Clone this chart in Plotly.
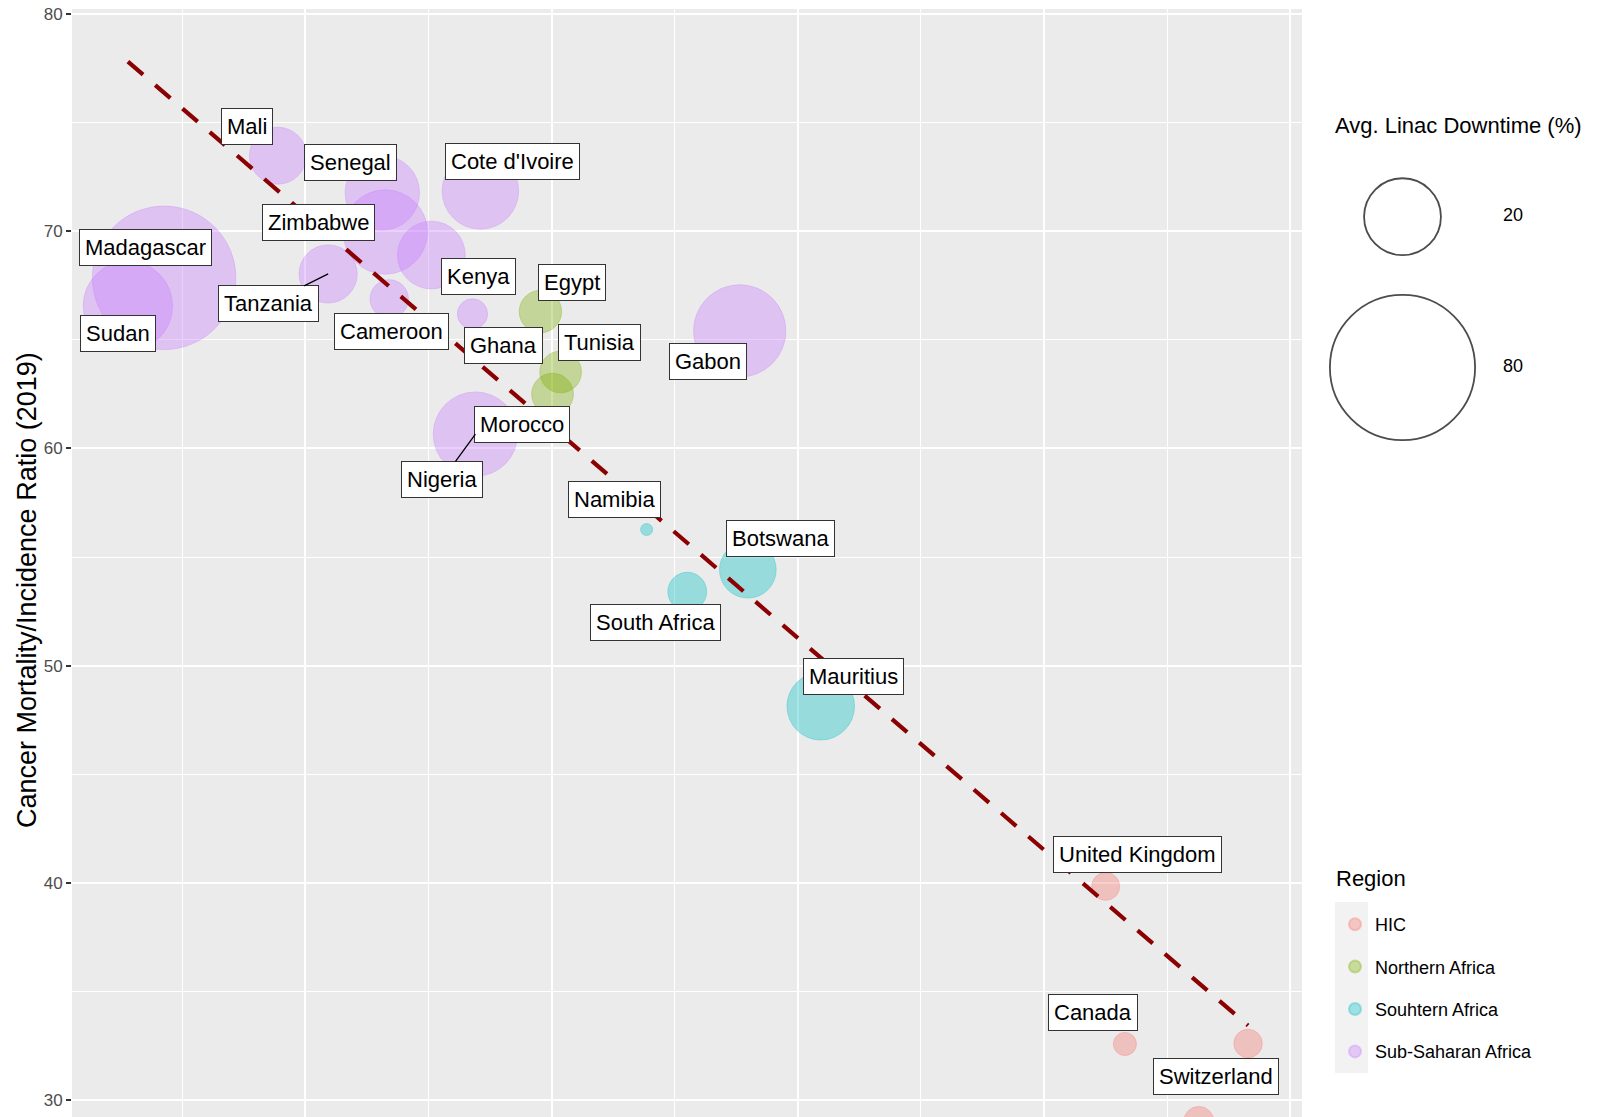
import numpy as np
import plotly.graph_objects as go

# ---------------- data ----------------
countries = ["Madagascar", "Sudan", "Mali", "Senegal", "Zimbabwe", "Tanzania",
             "Cameroon", "Kenya", "Cote d'Ivoire", "Ghana", "Nigeria", "Gabon",
             "Egypt", "Tunisia", "Morocco",
             "Namibia", "South Africa", "Botswana", "Mauritius",
             "United Kingdom", "Canada", "Switzerland", "(label cropped)"]
regions = (["Sub-Saharan Africa"] * 12 + ["Northern Africa"] * 3 +
           ["Souhtern Africa"] * 4 + ["HIC"] * 4)
# x variable: its title and tick labels are cropped off in the reference
x_values = [0.427, 0.280, 0.889, 1.313, 1.325, 1.093, 1.341, 1.512, 1.711, 1.679, 1.691, 2.764,
            1.955, 2.037, 2.004,
            2.386, 2.551, 2.797, 3.093,
            4.250, 4.328, 4.828, 4.628]
mi_ratio = [67.85, 66.56, 73.47, 71.76, 69.96, 68.03, 66.88, 68.90, 71.85, 66.19, 60.66, 65.41,
            66.30, 63.52, 62.50,
            56.27, 53.41, 54.42, 48.14,
            39.85, 32.60, 32.62, 29.03]
downtime = [78.0, 28.0, 10.0, 18.6, 24.6, 10.5, 3.8, 15.0, 19.8, 2.0, 24.6, 30.0,
            4.9, 4.7, 4.7,
            0.05, 3.9, 9.9, 14.9,
            1.6, 0.9, 1.7, 2.0]
region_order = ["HIC", "Northern Africa", "Souhtern Africa", "Sub-Saharan Africa"]
size_breaks = [20, 80]
trend_y = [77.80, 33.45]          # fitted line at min / max x
y_tick_vals = [30, 40, 50, 60, 70, 80]

# ---------------- layout helpers ----------------
W, H = 1597, 1117
ML, MT = 72, 9
PW, PH = W - ML, H - MT


def px_x(p):
    return (p - ML) / PW


def px_y(p):
    return (H - p) / PH


def size_px(v):
    return list(8.6 + 15.27 * np.sqrt(np.asarray(v, dtype=float)))


region_colors = {"HIC": "#F8766D", "Northern Africa": "#7CAE00",
                 "Souhtern Africa": "#00BFC4", "Sub-Saharan Africa": "#C77CFF"}


def rgba(h, a):
    h = h.lstrip("#")
    r, g, b = int(h[0:2], 16), int(h[2:4], 16), int(h[4:6], 16)
    return f"rgba({r},{g},{b},{a})"


FONT = "Liberation Sans, Arial, Helvetica, sans-serif"

# label placement (ggrepel-like positions, in data units)
label_pos = {
    "Mali": (0.763, 74.83), "Senegal": (1.184, 73.15), "Zimbabwe": (1.053, 70.38),
    "Madagascar": (0.353, 69.23), "Tanzania": (0.849, 66.65), "Sudan": (0.238, 65.28),
    "Cote d'Ivoire": (1.840, 73.22), "Kenya": (1.704, 67.93), "Egypt": (2.083, 67.65),
    "Ghana": (1.805, 64.73), "Tunisia": (2.196, 64.88), "Gabon": (2.635, 64.02),
    "Morocco": (1.881, 61.11), "Nigeria": (1.556, 58.57), "Cameroon": (1.352, 65.36),
    "Namibia": (2.255, 57.65), "Botswana": (2.928, 55.86), "South Africa": (2.423, 51.97),
    "Mauritius": (3.224, 49.51), "United Kingdom": (4.381, 41.30), "Canada": (4.199, 34.03),
    "Switzerland": (4.699, 31.11),
}
segment_labels = {"Tanzania", "Nigeria"}

fig = go.Figure()

for reg in region_order:
    idx = [i for i, r in enumerate(regions) if r == reg]
    c = region_colors[reg]
    fig.add_trace(go.Scatter(
        x=[x_values[i] for i in idx], y=[mi_ratio[i] for i in idx],
        mode="markers", name=reg, legendgroup=reg,
        text=[countries[i] for i in idx],
        marker=dict(size=size_px([downtime[i] for i in idx]), sizemode="diameter",
                    color=rgba(c, 0.5), line=dict(color=rgba(c, 0.5), width=1)),
    ))

# dashed linear trend
fig.add_trace(go.Scatter(
    x=[min(x_values), max(x_values)], y=trend_y, mode="lines",
    line=dict(color="#8B0000", width=4.2, dash="20px,16px"),
    showlegend=False, hoverinfo="skip",
))

# size legend (drawn on its own invisible axes)
fig.add_trace(go.Scatter(
    x=[0] * len(size_breaks), y=list(range(len(size_breaks))), xaxis="x2", yaxis="y2",
    mode="markers", showlegend=False, hoverinfo="skip", cliponaxis=False,
    marker=dict(symbol="circle-open", size=size_px(size_breaks), color="black",
                line=dict(color="black", width=1.8)),
))
fig.add_trace(go.Scatter(
    x=[1] * len(size_breaks), y=list(range(len(size_breaks))), xaxis="x2", yaxis="y2",
    mode="text", text=[str(b) for b in size_breaks], showlegend=False, hoverinfo="skip",
    cliponaxis=False, textfont=dict(size=18, color="black", family=FONT),
))

annotations = []
for name, (lx, ly) in label_pos.items():
    i = countries.index(name)
    common = dict(text=name, font=dict(size=22, color="black", family=FONT),
                  bgcolor="white", bordercolor="#333333", borderwidth=1, borderpad=5)
    if name in segment_labels:
        annotations.append(dict(x=x_values[i], y=mi_ratio[i], xref="x", yref="y",
                                ax=lx, ay=ly, axref="x", ayref="y", showarrow=True,
                                arrowhead=0, arrowwidth=1.3, arrowcolor="black",
                                standoff=0, **common))
    else:
        annotations.append(dict(x=lx, y=ly, xref="x", yref="y", showarrow=False,
                                xanchor="center", yanchor="middle", **common))

annotations.append(dict(text="Cancer Mortality/Incidence Ratio (2019)", xref="paper", yref="paper",
                        x=px_x(27), y=px_y(590), textangle=-90, showarrow=False,
                        xanchor="center", yanchor="middle",
                        font=dict(size=27, color="black", family=FONT)))
annotations.append(dict(text="Avg. Linac Downtime (%)", xref="paper", yref="paper",
                        x=px_x(1333), y=px_y(126), showarrow=False,
                        xanchor="left", yanchor="middle",
                        font=dict(size=22, color="black", family=FONT)))
annotations.append(dict(text="Region", xref="paper", yref="paper",
                        x=px_x(1334), y=px_y(878), showarrow=False,
                        xanchor="left", yanchor="middle",
                        font=dict(size=22, color="black", family=FONT)))

shapes = [
    dict(type="rect", xref="x domain", yref="y domain", x0=0, x1=1, y0=0, y1=1,
         fillcolor="#EBEBEB", line=dict(width=0), layer="below"),
    dict(type="rect", xref="paper", yref="paper", x0=px_x(1335), x1=px_x(1368),
         y0=px_y(1073), y1=px_y(902), fillcolor="#F2F2F2", line=dict(width=0), layer="below"),
]

fig.update_layout(
    width=W, height=H,
    margin=dict(l=ML, r=0, t=MT, b=0, autoexpand=False),
    paper_bgcolor="white", plot_bgcolor="white",
    font=dict(family=FONT, color="black"),
    xaxis=dict(domain=[0, px_x(1302)], range=[0.053, 5.047], anchor="y",
               showgrid=True, gridcolor="white", gridwidth=2.2, tick0=0, dtick=1,
               showticklabels=False, ticks="", zeroline=False, showline=False,
               minor=dict(tick0=0, dtick=0.5, showgrid=True, gridcolor="white", gridwidth=1.2),
               fixedrange=True),
    yaxis=dict(domain=[0, 1], range=[29.24, 80.22], anchor="x",
               tickmode="array", tickvals=y_tick_vals,
               showgrid=True, gridcolor="white", gridwidth=2.2,
               ticks="outside", ticklen=5, tickwidth=1.5, tickcolor="#333333",
               tickfont=dict(size=17, color="#4D4D4D", family=FONT),
               zeroline=False, showline=False,
               minor=dict(tick0=0, dtick=5, showgrid=True, gridcolor="white", gridwidth=1.2),
               fixedrange=True),
    xaxis2=dict(domain=[px_x(1347.25), px_x(1568.25)], range=[-0.5, 1.5], anchor="y2",
                visible=False, fixedrange=True),
    yaxis2=dict(domain=[px_y(442.9), px_y(141.3)], range=[1.5, -0.5], anchor="x2",
                visible=False, fixedrange=True),
    legend=dict(xref="container", yref="container", x=1335 / W, y=1 - 906 / H,
                xanchor="left", yanchor="top", traceorder="grouped", tracegroupgap=16,
                itemsizing="constant", bgcolor="rgba(0,0,0,0)",
                font=dict(size=18, color="black", family=FONT)),
    shapes=shapes,
    annotations=annotations,
    showlegend=True,
)

fig.write_html("out.html", config={"displayModeBar": False},
               post_script="document.body.style.margin='0';document.body.style.overflow='hidden';")
